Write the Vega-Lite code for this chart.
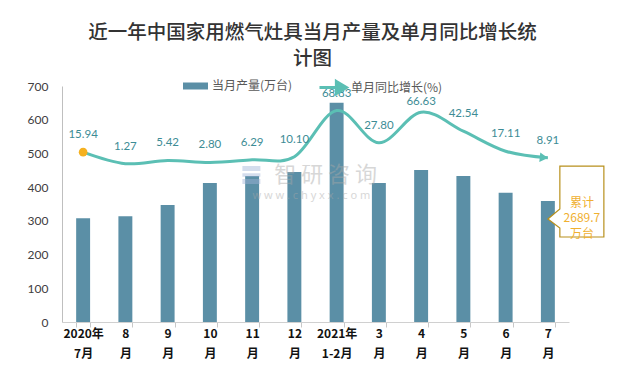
{
  "$schema": "https://vega.github.io/schema/vega-lite/v6.json",
  "width": 507,
  "height": 236,
  "autosize": {"type": "none"},
  "padding": {"left": 62, "top": 86, "right": 53, "bottom": 46},
  "background": "white",
  "title": {
    "text": ["近一年中国家用燃气灶具当月产量及单月同比增长统", "计图"],
    "font": "Noto Sans CJK SC",
    "fontSize": 19.5,
    "fontWeight": 500,
    "color": "#333333",
    "lineHeight": 26,
    "offset": 3,
    "anchor": "middle",
    "dx": -3
  },
  "config": {
    "view": {"stroke": null},
    "legend": {"padding": 0, "titlePadding": 0}
  },
  "data": {
    "values": [
      {"month": "2020年 7月", "prod": 308, "growth": 15.94},
      {"month": "8 月", "prod": 314, "growth": 1.27},
      {"month": "9 月", "prod": 347, "growth": 5.42},
      {"month": "10 月", "prod": 412, "growth": 2.80},
      {"month": "11 月", "prod": 433, "growth": 6.29},
      {"month": "12 月", "prod": 445, "growth": 10.10},
      {"month": "2021年 1-2月", "prod": 650, "growth": 68.83},
      {"month": "3 月", "prod": 412, "growth": 27.80},
      {"month": "4 月", "prod": 451, "growth": 66.63},
      {"month": "5 月", "prod": 433, "growth": 42.54},
      {"month": "6 月", "prod": 383, "growth": 17.11},
      {"month": "7 月", "prod": 359, "growth": 8.91}
    ]
  },
  "encoding": {
    "x": {
      "field": "month",
      "type": "nominal",
      "sort": null,
      "scale": {"paddingInner": 0.67, "paddingOuter": 0.335},
      "axis": {
        "title": null,
        "labelAngle": 0,
        "labelExpr": "split(datum.label, ' ')",
        "labelLineHeight": 20,
        "labelFont": "Noto Sans CJK SC",
        "labelFontSize": 12,
        "labelFontWeight": "bold",
        "labelColor": "#111111",
        "labelPadding": 1,
        "domainColor": "#D0D0D0",
        "tickColor": "#C8C8C8",
        "tickSize": 5,
        "tickBand": "extent"
      }
    }
  },
  "layer": [
    {
      "encoding": {
        "y": {
          "field": "prod",
          "type": "quantitative",
          "scale": {"domain": [0, 700], "nice": false},
          "axis": {
            "title": null,
            "values": [0, 100, 200, 300, 400, 500, 600, 700],
            "labelOverlap": false,
            "ticks": false,
            "grid": false,
            "labelPadding": 14,
            "domainColor": "#BFBFBF",
            "labelFont": "Lato",
            "labelFontSize": 12,
            "labelColor": "#404040"
          }
        }
      },
      "layer": [
        {
          "mark": {"type": "bar"},
          "encoding": {
            "fill": {
              "datum": "当月产量(万台)",
              "type": "nominal",
              "scale": {"range": ["#5B8FA6"]},
              "legend": {
                "orient": "none",
                "legendX": 121,
                "legendY": -12.5,
                "title": null,
                "symbolType": "M-1,-0.28 L1,-0.28 L1,0.28 L-1,0.28 Z",
                "symbolSize": 625,
                "symbolStrokeWidth": 0,
                "symbolOpacity": 1,
                "labelOffset": 4,
                "labelFont": "Noto Sans CJK SC",
                "labelFontSize": 12,
                "labelColor": "#595959"
              }
            }
          }
        },
        {
          "data": {"values": [{"month": "12 月", "prod": 436}]},
          "mark": {
            "type": "point",
            "shape": "M-1,-1 L1,-1 L1,-0.45 L-1,-0.45 Z M-1,-0.2 L1,-0.2 L1,0.2 L-1,0.2 Z M-1,0.45 L1,0.45 L1,1 L-1,1 Z",
            "size": 324,
            "filled": true,
            "color": "#9FB3D6",
            "opacity": 0.45,
            "xOffset": -43
          }
        },
        {
          "data": {"values": [{"month": "2021年 1-2月", "prod": 437, "t": "智 研 咨 询"}]},
          "mark": {"type": "text", "font": "Noto Sans CJK SC", "fontSize": 22, "color": "#A8A8A8", "opacity": 0.45, "dx": -11, "baseline": "middle"},
          "encoding": {"text": {"field": "t"}}
        },
        {
          "data": {"values": [{"month": "12 月", "prod": 374, "t": "w w w . c h y x x . c o m"}]},
          "mark": {"type": "text", "font": "Noto Sans", "fontSize": 11, "color": "#A8A8A8", "opacity": 0.45, "dx": 17, "baseline": "middle"},
          "encoding": {"text": {"field": "t"}}
        },
        {
          "data": {"values": [{"month": "7 月", "prod": 305.5}]},
          "mark": {
            "type": "point",
            "shape": "M0.214,-0.946 L1,-0.946 L1,0.321 L0.214,0.321 L0.214,0.161 L0,0 L0.214,-0.179 Z",
            "size": 12544,
            "filled": true,
            "fill": "#FFFFFF",
            "fillOpacity": 1,
            "stroke": "#B8901C",
            "strokeWidth": 1.2,
            "opacity": 1
          }
        },
        {
          "data": {"values": [{"month": "7 月", "prod": 353, "t": "累计\n2689.7\n万台"}]},
          "mark": {"type": "text", "font": "Noto Sans CJK SC", "fontSize": 12, "color": "#F0B030", "lineBreak": "\n", "lineHeight": 15.5, "dx": 34, "baseline": "middle"},
          "encoding": {"text": {"field": "t"}}
        }
      ]
    },
    {
      "encoding": {
        "y": {"field": "growth", "type": "quantitative", "scale": {"domain": [-200, 100], "nice": false}, "axis": null}
      },
      "layer": [
        {
          "mark": {"type": "line", "interpolate": "cardinal", "strokeWidth": 3},
          "encoding": {
            "stroke": {
              "datum": "单月同比增长(%)",
              "type": "nominal",
              "scale": {"range": ["#5BBFB4"]},
              "legend": {
                "orient": "none",
                "legendX": 256,
                "legendY": -13.5,
                "title": null,
                "symbolType": "M-1,0 L0.3,0 M0.25,-0.45 L1,0 L0.25,0.45 Z",
                "symbolSize": 729,
                "symbolStrokeWidth": 3,
                "symbolFillColor": "#5BBFB4",
                "symbolOpacity": 1,
                "labelOffset": 3,
                "labelFont": "Noto Sans CJK SC",
                "labelFontSize": 12,
                "labelColor": "#595959"
              }
            }
          }
        },
        {
          "transform": [{"filter": "datum.month == '2020年 7月'"}],
          "mark": {"type": "point", "filled": true, "size": 75, "color": "#F5B120", "opacity": 1}
        },
        {
          "transform": [{"filter": "datum.month == '7 月'"}],
          "mark": {"type": "point", "filled": true, "shape": "triangle-right", "size": 90, "angle": 6, "xOffset": -4, "color": "#5BBFB4", "opacity": 1}
        },
        {
          "transform": [{"filter": "datum.month != '4 月'"}],
          "mark": {"type": "text", "font": "Lato", "fontSize": 11.5, "color": "#3D8C95", "dy": -17, "baseline": "middle"},
          "encoding": {"text": {"field": "growth", "type": "quantitative", "format": ".2f"}}
        },
        {
          "transform": [{"filter": "datum.month == '4 月'"}],
          "mark": {"type": "text", "font": "Lato", "fontSize": 11.5, "color": "#3D8C95", "dy": -10, "baseline": "middle"},
          "encoding": {"text": {"field": "growth", "type": "quantitative", "format": ".2f"}}
        }
      ]
    }
  ],
  "resolve": {"scale": {"y": "independent"}}
}
